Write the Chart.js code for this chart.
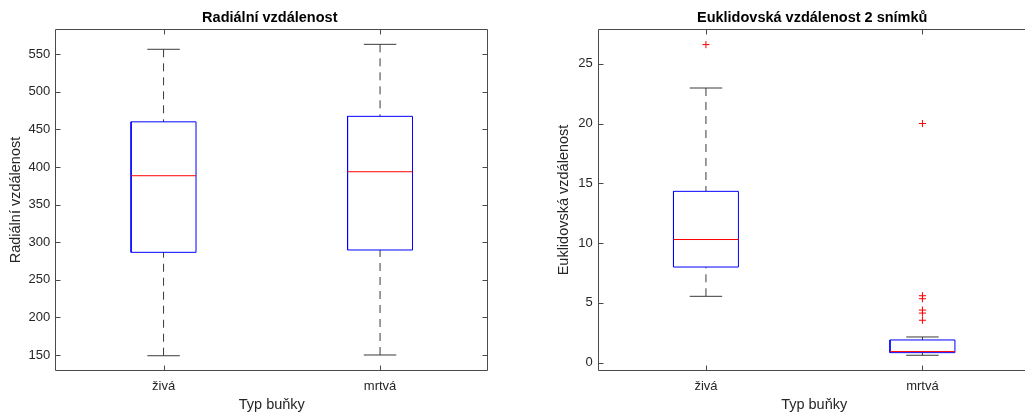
<!DOCTYPE html>
<html>
<head>
<meta charset="utf-8">
<script src="https://cdn.jsdelivr.net/npm/chart.js@4/dist/chart.umd.min.js"></script>
<style>
  html, body { margin: 0; padding: 0; background: #fff; overflow: hidden; width: 1025px; height: 414px; }
  canvas { position: absolute; top: 0; }
  #radial { left: 0; }
  #euclid { left: 512px; }
</style>
</head>
<body>
<canvas id="radial" width="512" height="414"></canvas>
<canvas id="euclid" width="530" height="414"></canvas>
<script>
// Cell types on the x axis
const categories = ['živá', 'mrtvá'];

// Radial distance: box-plot statistics per cell type
const radialLow = [149.0, 150.0];
const radialQ1 = [286.6, 289.7];
const radialMedian = [388.5, 393.8];
const radialQ3 = [460.2, 467.5];
const radialHigh = [556.7, 563.3];
const radialOutliers = [[], []];
const radialTicks = [150, 200, 250, 300, 350, 400, 450, 500, 550];

// Euclidean distance between two frames: box-plot statistics per cell type
const euclidLow = [5.55, 0.62];
const euclidQ1 = [8.0, 0.84];
const euclidMedian = [10.3, 0.93];
const euclidQ3 = [14.33, 1.9];
const euclidHigh = [22.97, 2.15];
const euclidOutliers = [[26.6], [20.0, 5.6, 5.35, 4.4, 4.15, 3.55]];
const euclidTicks = [0, 5, 10, 15, 20, 25];

const FONT = '"Liberation Sans", Arial, Helvetica, sans-serif';
const TEXT = '#262626';
const AXIS = '#4a4a4a';
const BOX_HALF = 0.15;
const CAP_HALF = 0.075;

// Build line/scatter datasets that trace each box, median, whisker and outlier
function boxDatasets(low, q1, med, q3, high, outliers) {
  const box = [], median = [], whisk = [], caps = [], out = [];
  categories.forEach((c, i) => {
    const x = i + 1;
    box.push({x: x - BOX_HALF, y: q1[i]}, {x: x + BOX_HALF, y: q1[i]},
             {x: x + BOX_HALF, y: q3[i]}, {x: x - BOX_HALF, y: q3[i]},
             {x: x - BOX_HALF, y: q1[i]}, {x: x, y: null});
    median.push({x: x - BOX_HALF, y: med[i]}, {x: x + BOX_HALF, y: med[i]}, {x: x, y: null});
    whisk.push({x: x, y: high[i]}, {x: x, y: q3[i]}, {x: x, y: null},
               {x: x, y: low[i]}, {x: x, y: q1[i]}, {x: x, y: null});
    caps.push({x: x - CAP_HALF, y: high[i]}, {x: x + CAP_HALF, y: high[i]}, {x: x, y: null},
              {x: x - CAP_HALF, y: low[i]}, {x: x + CAP_HALF, y: low[i]}, {x: x, y: null});
    outliers[i].forEach(v => out.push({x: x, y: v}));
  });
  const line = {showLine: true, pointRadius: 0, borderWidth: 1, spanGaps: false, fill: false};
  // lower "order" is painted later, i.e. on top
  return [
    Object.assign({data: whisk, borderColor: '#3a3a3a', borderDash: [8, 6], order: 5}, line),
    Object.assign({data: caps, borderColor: '#3a3a3a', order: 4}, line),
    Object.assign({data: box, borderColor: '#0000ff', order: 3}, line),
    Object.assign({data: median, borderColor: '#ff0000', order: 2}, line),
    {data: out, showLine: false, pointStyle: 'cross', pointRadius: 3.6, order: 1,
     borderColor: '#ff0000', backgroundColor: '#ff0000', pointBorderWidth: 1}
  ];
}

// Axes frame with inward ticks on all four sides, plus the plot title
function framePlugin(title, tickValues) {
  return {
    id: 'frame',
    afterDraw(chart) {
      const {ctx, chartArea: a, scales} = chart;
      ctx.save();
      ctx.strokeStyle = AXIS;
      ctx.lineWidth = 1;
      const L = Math.round(a.left) + 0.5, R = Math.round(a.right) - 0.5;
      const T = Math.round(a.top) + 0.5, B = Math.round(a.bottom) - 0.5;
      ctx.beginPath();
      ctx.rect(L, T, R - L, B - T);
      tickValues.forEach(v => {
        const y = Math.round(scales.y.getPixelForValue(v)) + 0.5;
        ctx.moveTo(L, y); ctx.lineTo(L + 5, y);
        ctx.moveTo(R, y); ctx.lineTo(R - 5, y);
      });
      categories.forEach((c, i) => {
        const x = Math.round(scales.x.getPixelForValue(i + 1)) + 0.5;
        ctx.moveTo(x, B); ctx.lineTo(x, B - 5);
        ctx.moveTo(x, T); ctx.lineTo(x, T + 5);
      });
      ctx.stroke();
      ctx.fillStyle = '#000';
      ctx.font = 'bold 14.5px ' + FONT;
      ctx.textAlign = 'center';
      ctx.textBaseline = 'middle';
      ctx.fillText(title, (a.left + a.right) / 2 - 2, 17.5);
      ctx.restore();
    }
  };
}

function makeChart(id, o) {
  new Chart(document.getElementById(id), {
    type: 'scatter',
    data: {datasets: o.datasets},
    options: {
      responsive: false,
      animation: false,
      devicePixelRatio: 1,
      events: [],
      layout: {padding: {top: 29.3, right: o.padRight, left: 0, bottom: 0}},
      plugins: {legend: {display: false}, tooltip: {enabled: false}, title: {display: false}},
      scales: {
        x: {
          type: 'linear', min: 0.5, max: 2.5,
          grid: {display: false, drawTicks: false}, border: {display: false},
          afterBuildTicks: s => { s.ticks = categories.map((c, i) => ({value: i + 1})); },
          ticks: {callback: v => categories[v - 1], padding: 8, color: TEXT,
                  font: {family: FONT, size: 13}, maxRotation: 0, autoSkip: false},
          title: {display: true, text: 'Typ buňky', color: TEXT,
                  font: {family: FONT, size: 14.5}, padding: {top: 0, bottom: 0}},
          afterFit: s => { s.height = 43.3; }
        },
        y: {
          type: 'linear', min: o.yMin, max: o.yMax,
          grid: {display: false, drawTicks: false}, border: {display: false},
          afterBuildTicks: s => { s.ticks = o.ticks.map(v => ({value: v})); },
          ticks: {padding: 5, color: TEXT, font: {family: FONT, size: 13}},
          title: {display: true, text: o.yTitle, color: TEXT,
                  font: {family: FONT, size: 14.5}, padding: {top: o.titlePad, bottom: 0}},
          afterFit: s => { s.width = o.yWidth; }
        }
      }
    },
    plugins: [framePlugin(o.title, o.ticks)]
  });
}

makeChart('radial', {
  datasets: boxDatasets(radialLow, radialQ1, radialMedian, radialQ3, radialHigh, radialOutliers),
  title: 'Radiální vzdálenost',
  yTitle: 'Radiální vzdálenost',
  ticks: radialTicks,
  yMin: 129.1, yMax: 583.3,
  yWidth: 55.3, padRight: 23.7, titlePad: 7
});

makeChart('euclid', {
  datasets: boxDatasets(euclidLow, euclidQ1, euclidMedian, euclidQ3, euclidHigh, euclidOutliers),
  title: 'Euklidovská vzdálenost 2 snímků',
  yTitle: 'Euklidovská vzdálenost',
  ticks: euclidTicks,
  yMin: -0.67, yMax: 27.88,
  yWidth: 85.7, padRight: 11.3, titlePad: 43.6
});
</script>
</body>
</html>
